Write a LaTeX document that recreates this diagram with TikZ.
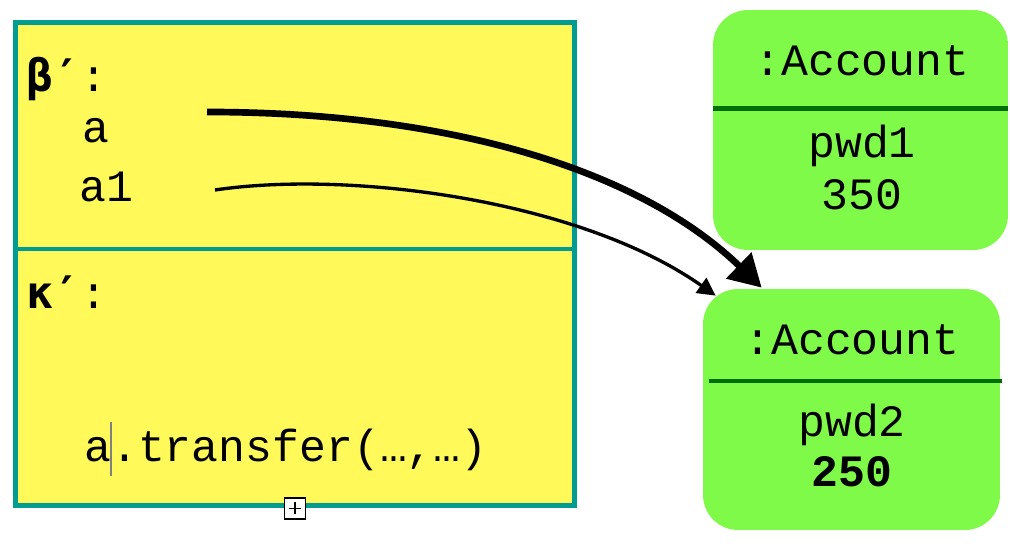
\documentclass[tikz,border=0pt]{standalone}
\usepackage{fontspec}
\setmonofont{Liberation Mono}
\newfontfamily\greekmono{DejaVu Sans Mono}
\usetikzlibrary{positioning}
\usetikzlibrary{calc}
\usetikzlibrary{arrows.meta}

\definecolor{envyellow}{RGB}{255,250,90}
\definecolor{envteal}{RGB}{0,155,145}
\definecolor{objgreen}{RGB}{128,250,72}
\definecolor{objline}{RGB}{0,110,0}

\tikzset{
  envbox/.style={draw=envteal, fill=envyellow, line width=2.85pt, minimum width=11.18cm, minimum height=9.67cm, inner sep=0pt},
  objbox/.style={fill=objgreen, rounded corners=0.7cm, inner sep=0pt},
  code/.style={anchor=base west, inner sep=0pt},
  field/.style={anchor=base, inner sep=0pt},
  ref/.style={-{Triangle[length=0.36cm,width=0.36cm]}, line width=1.9pt},
  thickref/.style={-{Triangle[length=0.64cm,width=0.7cm]}, line width=3.8pt},
}

\begin{document}
\begin{tikzpicture}[x=0.02cm, y=-0.02cm, font=\ttfamily\fontsize{25.5}{30}\selectfont]
    \useasboundingbox (0,0) rectangle (1010,546);

    % environment with beta' and kappa'
    \node[envbox] (env) at (295,264.25) {};
    \draw[envteal, line width=2pt] (env.west |- 0,249) -- (env.east |- 0,249);

    \node[code] (beta) at (26,92) {{\greekmono\bfseries β′}:};
    \node[code] (varA) at (82,143) {a};
    \node[code] (varAone) at (79,202) {a1};
    \node[code] (kappa) at (26,309) {{\greekmono\bfseries κ′}:};
    \node[code] (call) at (84,462) {a.transfer(…,…)};
    \draw[gray, line width=1pt] ($(call.base west)+(27,-40)$) -- ($(call.base west)+(27,14)$);

    \node[draw, fill=white, line width=1.1pt, minimum size=0.42cm, inner sep=0pt] (expand) at (env.south) {};
    \draw[line width=1pt] ($(expand.center)+(-6,0)$) -- ($(expand.center)+(6,0)$);
    \draw[line width=1pt] ($(expand.center)+(0,-6)$) -- ($(expand.center)+(0,6)$);

    % objects
    \node[objbox, minimum width=5.9cm, minimum height=4.8cm] (acc1) at (860.5,130) {};
    \draw[objline, line width=2.3pt] (acc1.west |- 0,108.5) -- (acc1.east |- 0,108.5);
    \node[field] (acc1type) at (862,76) {:Account};
    \node[field] (acc1name) at (862,158) {pwd1};
    \node[field] (acc1bal) at (862,210) {350};

    \node[objbox, minimum width=5.94cm, minimum height=4.82cm] (acc2) at (851.5,409.5) {};
    \draw[objline, line width=2.3pt] ($(acc2.west |- 0,381)+(6,0)$) -- ($(acc2.east |- 0,381)+(2,0)$);
    \node[field] (acc2type) at (852,355) {:Account};
    \node[field] (acc2name) at (852,437) {pwd2};
    \node[field] (acc2bal) at (852,487) {\bfseries 250};

    % references
    \coordinate (fromA) at (207,112);
    \coordinate (fromAone) at (215,190);
    \draw[thickref] (fromA) .. controls (450,112) and (640,170) .. ($(acc2.north west)+(59,-1)$);
    \draw[ref] (fromAone) .. controls (350,170) and (580,200) .. ($(acc2.north west)+(13,7)$);
\end{tikzpicture}
\end{document}
